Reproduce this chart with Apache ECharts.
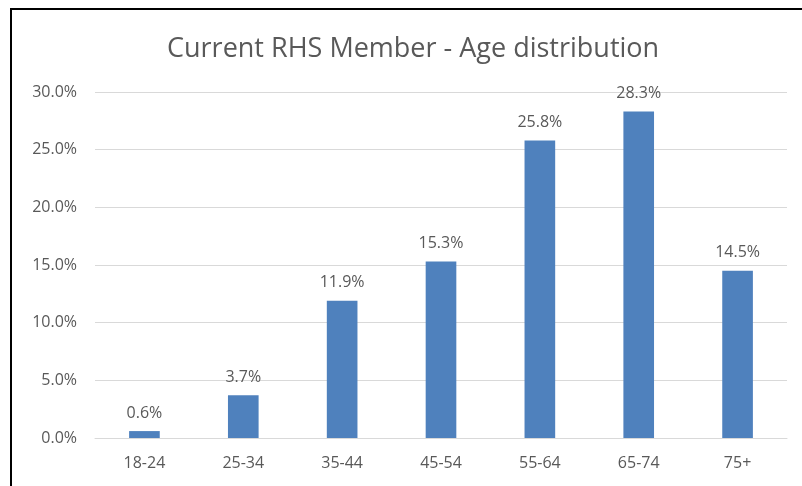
<!DOCTYPE html>
<html><head><meta charset="utf-8">
<script src="https://cdn.jsdelivr.net/npm/echarts@6/dist/echarts.min.js"></script>
<style>html,body{margin:0;padding:0;background:#fff}#c{width:802px;height:486px}
#frame{position:absolute;left:10px;top:8px;width:800px;height:490px;border-left:2px solid #000;border-top:2px solid #000;pointer-events:none}</style>
</head><body><div id="c"></div><div id="frame"></div>
<script>
const title = 'Current RHS Member - Age distribution';
const categories = ['18-24','25-34','35-44','45-54','55-64','65-74','75+'];
const values = [0.6, 3.7, 11.9, 15.3, 25.8, 28.3, 14.5];
const yTicks = [0, 5, 10, 15, 20, 25, 30];
const FONT = 'Open Sans';
const chart = echarts.init(document.getElementById('c'));
chart.setOption({
  animation:false,
  title:{text:title,left:162,top:31,textStyle:{fontFamily:FONT,fontSize:27,fontWeight:'normal',color:'#595959'}},
  grid:{left:95,right:15,top:92,bottom:48,containLabel:false},
  xAxis:{type:'category',data:categories,
    axisLine:{lineStyle:{color:'#D9D9D9'}},axisTick:{show:false},
    axisLabel:{fontFamily:FONT,fontSize:16,color:'#595959',margin:17}},
  yAxis:{type:'value',min:yTicks[0],max:yTicks[yTicks.length-1],interval:5,
    axisLine:{show:false},axisTick:{show:false},
    splitLine:{lineStyle:{color:'#D9D9D9'}},
    axisLabel:{fontFamily:FONT,fontSize:16,color:'#595959',margin:18,formatter:v=>v.toFixed(1)+'%'}},
  series:[{type:'bar',data:values,barWidth:'31%',
    itemStyle:{color:'#4F81BD'},
    label:{show:true,position:'top',distance:10,fontFamily:FONT,fontSize:16,color:'#595959',formatter:p=>p.value.toFixed(1)+'%'}}]
});
</script></body></html>
